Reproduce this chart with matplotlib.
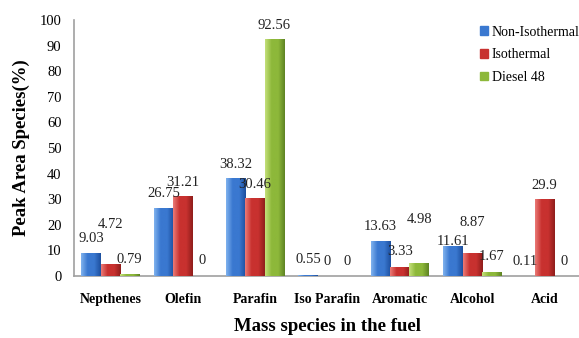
import numpy as np
import matplotlib.pyplot as plt
from matplotlib.colors import LinearSegmentedColormap

categories = ['Nepthenes', 'Olefin', 'Parafin', 'Iso Parafin', 'Aromatic', 'Alcohol', 'Acid']
series_names = ['Non-Isothermal', 'Isothermal', 'Diesel 48']
non_isothermal = [9.03, 26.75, 38.32, 0.55, 13.63, 11.61, 0.11]
isothermal = [4.72, 31.21, 30.46, 0, 3.33, 8.87, 29.9]
diesel48 = [0.79, 0, 92.56, 0, 4.98, 1.67, 0]

# where each value label sits (data units), labels were hand-placed
label_y = [
    [14.8, 32.4, 43.6, 6.3, 19.3, 13.3, 5.6],
    [20.3, 36.7, 35.9, 5.8, 9.5, 21.0, 35.5],
    [6.6, 5.9, 98.0, 5.8, 21.9, 7.5, 5.6],
]

base_cols = ['#3a78d0', '#c8312f', '#8db83a']
grads = [('#7fb2ee', '#3a78d0', '#1d4f9e'),
         ('#ea7a76', '#c8312f', '#8f1d1b'),
         ('#c4e07a', '#8db83a', '#5f8424')]

plt.rcParams['font.family'] = ['Liberation Serif', 'DejaVu Serif']

fig = plt.figure(figsize=(5.79, 3.38), dpi=100)
ax = fig.add_axes([0.128, 0.1834, 0.875, 0.7574])

x = np.arange(len(categories))
w = 0.267
values = [non_isothermal, isothermal, diesel48]
grad = np.linspace(0, 1, 64).reshape(1, -1)

for i, vals in enumerate(values):
    offs = (i - 1) * w
    bars = ax.bar(x + offs, vals, w, color=base_cols[i], edgecolor='none', zorder=2)
    cmap = LinearSegmentedColormap.from_list('g%d' % i, [grads[i][0], grads[i][1], grads[i][1], grads[i][2]])
    for b in bars:
        h = b.get_height()
        if h <= 0:
            continue
        x0 = b.get_x()
        im = ax.imshow(grad, cmap=cmap, aspect='auto', zorder=3,
                       extent=(x0, x0 + b.get_width(), 0, h))
        im.set_clip_path(b)
    for j, v in enumerate(vals):
        ax.text(x[j] + offs, label_y[i][j], '%g' % v, ha='center', va='center',
                fontsize=10.5, color='#222222', zorder=5)

ax.set_xlim(-0.5, 6.5)
ax.set_ylim(0, 100)
ax.set_yticks(np.arange(0, 101, 10))
ax.tick_params(axis='y', length=0, pad=9, labelsize=10.5)
ax.tick_params(axis='x', length=0, pad=12)
ax.set_xticks(x)
ax.set_xticklabels(categories, fontsize=10, fontweight='bold')

for s in ['top', 'right']:
    ax.spines[s].set_visible(False)
for s in ['left', 'bottom']:
    ax.spines[s].set_color('#a0a0a0')
    ax.spines[s].set_linewidth(1.2)

ax.set_ylabel('Peak Area Species(%)', fontsize=13.5, fontweight='bold', labelpad=7)
ax.set_xlabel('Mass species in the fuel', fontsize=13.5, fontweight='bold', labelpad=9)

handles = [plt.Rectangle((0, 0), 1, 1, color=c) for c in base_cols]
ax.legend(handles, series_names, loc='upper left', bbox_to_anchor=(0.79, 1.0),
          frameon=False, fontsize=10, handlelength=0.55, handleheight=0.55,
          handletextpad=0.3, labelspacing=0.7, borderaxespad=0)

fig.savefig('out.png', dpi=100)
